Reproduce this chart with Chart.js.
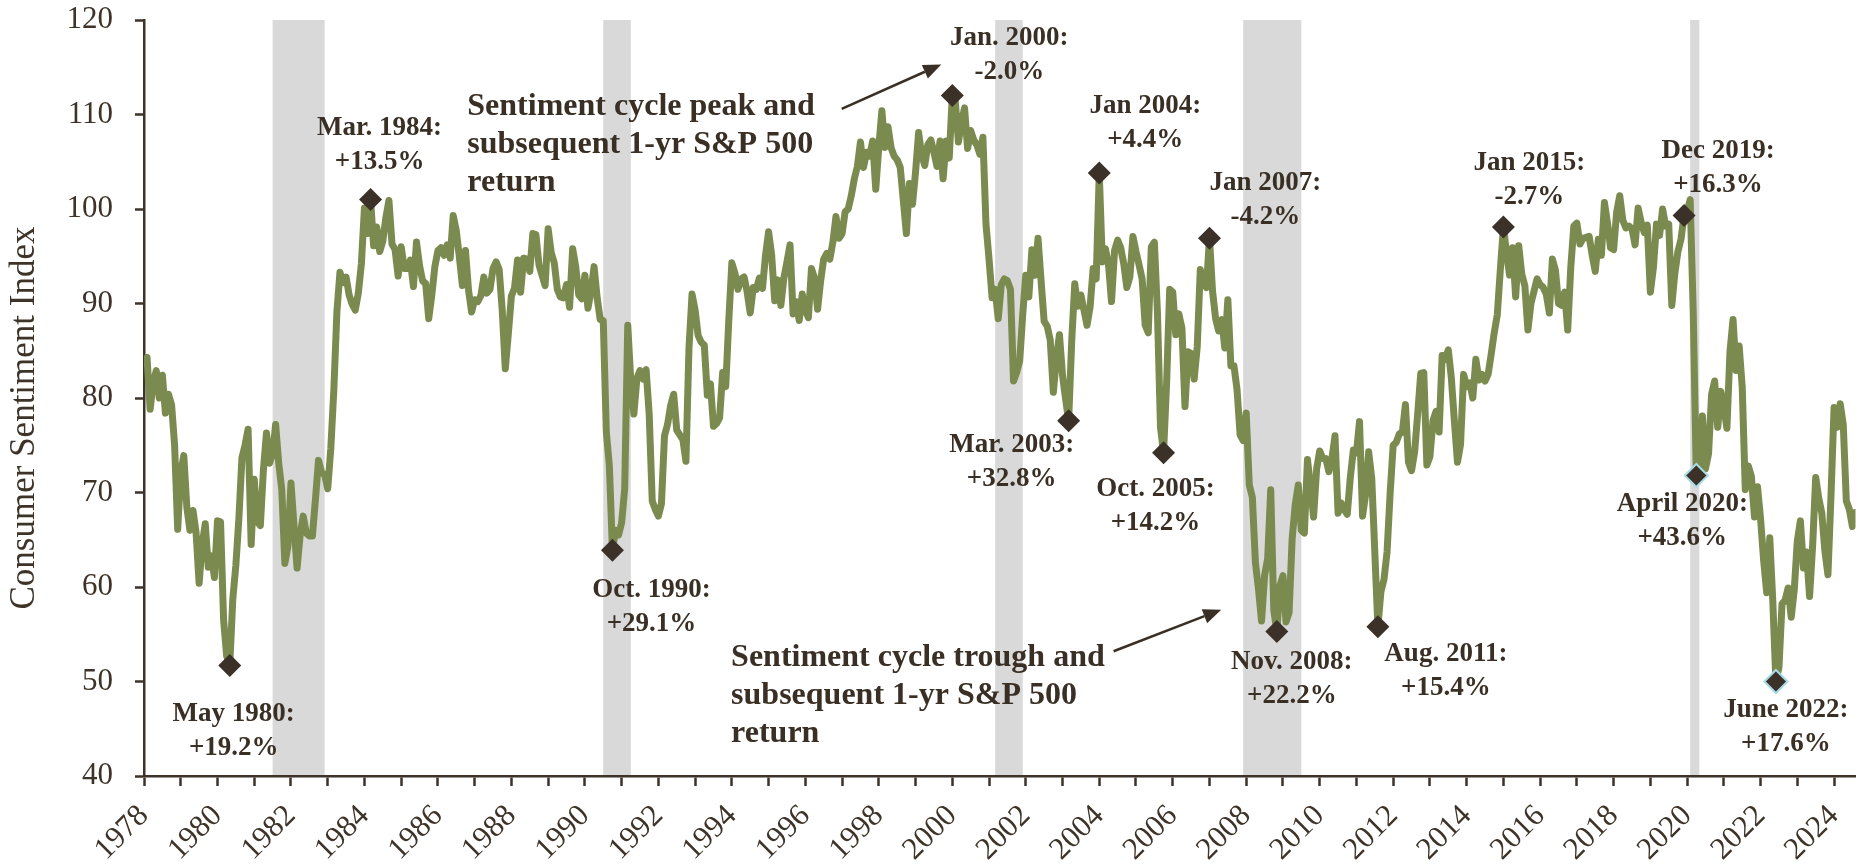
<!DOCTYPE html>
<html>
<head>
<meta charset="utf-8">
<title>Consumer Sentiment Index</title>
<script src="https://cdn.jsdelivr.net/npm/chart.js@4.4.1/dist/chart.umd.min.js"></script>
<style>
    html, body { margin: 0; padding: 0; background: #fff; }
    canvas { display: block; }
</style>
</head>
<body>
<canvas id="chart" width="1869" height="866"></canvas>
<script>
// Consumer Sentiment Index, monthly, Jan 1978 - Aug 2024

const firstYear = 1978;

const sent1978to1979 = [
    83.7, 84.3, 78.8, 81.6, 82.9, 80.0, 82.4, 78.4, 80.4, 79.3, 75.0, 66.1,
    72.1, 73.9, 68.4, 66.0, 68.1, 65.8, 60.4, 64.5, 66.7, 62.1, 63.3, 61.0
];
const sent1980s = [
    67.0, 66.9, 56.5, 52.7, 51.7, 58.7, 62.3, 67.3, 73.7, 75.0, 76.7, 64.5,
    71.4, 66.9, 66.5, 72.4, 76.3, 73.1, 74.1, 77.2, 73.1, 70.3, 62.5, 64.3,
    71.0, 66.5, 62.0, 65.5, 67.5, 65.7, 65.4, 65.4, 69.3, 73.4, 72.1, 71.9,
    70.4, 74.6, 80.8, 89.1, 93.3, 92.2, 92.8, 90.9, 89.9, 89.3, 91.1, 94.2,
    100.1, 97.4, 101.0, 96.1, 98.1, 95.5, 96.6, 99.1, 100.9, 96.3, 95.7, 92.9,
    96.0, 93.7, 93.7, 94.6, 91.8, 96.5, 94.0, 92.4, 92.1, 88.4, 90.9, 93.9,
    95.6, 95.9, 95.1, 96.2, 94.8, 99.3, 97.7, 94.9, 91.9, 95.6, 91.4, 89.1,
    90.4, 90.2, 90.8, 92.8, 91.1, 91.5, 93.7, 94.4, 93.6, 89.3, 83.1, 86.8,
    90.8, 91.6, 94.6, 91.2, 94.8, 94.7, 93.4, 97.4, 97.3, 94.1, 93.0, 91.9,
    97.9, 95.4, 94.3, 91.5, 90.7, 90.6, 92.0, 89.6, 95.8, 93.9, 90.9, 90.5
];
const sent1990s = [
    93.0, 89.5, 91.3, 93.9, 90.6, 88.3, 88.2, 76.4, 72.8, 63.9, 66.0, 65.5,
    66.8, 70.4, 87.7, 81.8, 78.3, 82.1, 82.9, 82.0, 83.0, 78.3, 69.1, 68.2,
    67.5, 68.8, 76.0, 77.2, 79.2, 80.4, 76.6, 76.1, 75.6, 73.3, 85.3, 91.0,
    89.3, 86.6, 85.9, 85.6, 80.3, 81.5, 77.0, 77.3, 77.9, 82.7, 81.2, 88.2,
    94.3, 93.2, 91.5, 92.6, 92.8, 91.2, 89.0, 91.7, 91.5, 92.7, 91.6, 95.1,
    97.6, 95.1, 90.3, 92.5, 89.8, 92.7, 94.4, 96.2, 88.9, 90.2, 88.2, 91.0,
    89.3, 88.5, 93.7, 92.7, 89.4, 92.4, 94.7, 95.3, 94.7, 96.5, 99.2, 96.9,
    97.4, 99.7, 100.0, 101.4, 103.2, 104.5, 107.1, 104.4, 106.0, 105.6, 107.2, 102.1,
    106.6, 110.4, 106.5, 108.7, 106.5, 105.6, 105.2, 104.4, 100.9, 97.4, 102.7, 100.5,
    103.9, 108.1, 105.7, 104.6, 106.8, 107.3, 106.0, 104.5, 107.2, 103.2, 107.2, 105.4
];
const sent2000s = [
    112.0, 111.3, 107.1, 109.2, 110.7, 106.4, 108.3, 107.3, 106.8, 105.8, 107.6, 98.4,
    94.7, 90.6, 91.5, 88.4, 92.0, 92.6, 92.4, 91.5, 81.8, 82.7, 83.9, 88.8,
    93.0, 90.7, 95.7, 93.0, 96.9, 92.4, 88.1, 87.6, 86.1, 80.6, 84.2, 86.7,
    82.4, 79.9, 77.6, 86.0, 92.1, 89.7, 90.9, 89.3, 87.7, 89.6, 93.7, 92.6,
    103.8, 94.4, 95.8, 94.2, 90.2, 95.6, 96.7, 95.9, 94.2, 91.7, 92.8, 97.1,
    95.5, 94.1, 92.6, 87.7, 86.9, 96.0, 96.5, 89.1, 76.9, 74.2, 81.6, 91.5,
    91.2, 86.7, 88.9, 87.4, 79.1, 84.9, 84.7, 82.0, 85.4, 93.6, 92.1, 91.7,
    96.9, 91.3, 88.4, 87.1, 88.3, 85.3, 90.4, 83.4, 83.4, 80.9, 76.1, 75.5,
    78.4, 70.8, 69.5, 62.6, 59.8, 56.4, 61.2, 63.0, 70.3, 57.6, 55.3, 60.1,
    61.2, 56.3, 57.3, 65.1, 68.7, 70.8, 66.0, 65.7, 73.5, 70.6, 67.4, 72.5
];
const sent2010s = [
    74.4, 73.6, 73.6, 72.2, 73.6, 76.0, 67.8, 68.9, 68.2, 67.7, 71.6, 74.5,
    74.2, 77.5, 67.5, 69.8, 74.3, 71.5, 63.7, 55.8, 59.5, 60.8, 63.7, 69.9,
    75.0, 75.3, 76.2, 76.4, 79.3, 73.2, 72.3, 74.3, 78.3, 82.6, 82.7, 72.9,
    73.8, 77.6, 78.6, 76.4, 84.5, 84.1, 85.1, 82.1, 77.5, 73.2, 75.1, 82.5,
    81.2, 81.6, 80.0, 84.1, 81.9, 82.5, 81.8, 82.5, 84.6, 86.9, 88.8, 93.6,
    98.1, 95.4, 93.0, 95.9, 90.7, 96.1, 93.1, 91.9, 87.2, 90.0, 91.3, 92.6,
    92.0, 91.7, 91.0, 89.0, 94.7, 93.5, 90.0, 89.8, 91.2, 87.2, 93.8, 98.2,
    98.5, 96.3, 96.9, 97.0, 97.1, 95.1, 93.4, 96.8, 95.1, 100.7, 98.5, 95.9,
    95.7, 99.7, 101.4, 98.8, 98.0, 98.2, 97.9, 96.2, 100.1, 98.6, 97.5, 98.3,
    91.2, 93.8, 98.4, 97.2, 100.0, 98.2, 98.4, 89.8, 93.2, 95.5, 96.8, 99.3
];
const sent2020s = [
    99.8, 101.0, 89.1, 71.8, 72.3, 78.1, 72.5, 74.1, 80.4, 81.8, 76.9, 80.7,
    79.0, 76.8, 84.9, 88.3, 82.9, 85.5, 81.2, 70.3, 72.8, 71.7, 67.4, 70.6,
    67.2, 62.8, 59.4, 65.2, 58.4, 50.0, 51.5, 58.2, 58.6, 59.9, 56.8, 59.7,
    64.9, 67.0, 62.0, 63.7, 59.0, 64.4, 71.6, 69.4, 67.8, 63.8, 61.3, 69.7,
    79.0, 76.9, 79.4, 77.2, 69.1, 68.2, 66.4, 67.9
];

// recessions (first and last month), shaded grey
const recessionStart = ['1981-07', '1990-07', '2001-03', '2007-12', '2020-02'];
const recessionEnd = ['1982-11', '1991-03', '2001-11', '2009-06', '2020-04'];

// sentiment peaks / troughs and the following 1-yr S&P 500 return
const markDates = ['1980-05', '1984-03', '1990-10', '2000-01', '2003-03', '2004-01', '2005-10',
    '2007-01', '2008-11', '2011-08', '2015-01', '2019-12', '2020-04', '2022-06'];
const markNames = ['May 1980:', 'Mar. 1984:', 'Oct. 1990:', 'Jan. 2000:', 'Mar. 2003:', 'Jan 2004:', 'Oct. 2005:',
    'Jan 2007:', 'Nov. 2008:', 'Aug. 2011:', 'Jan 2015:', 'Dec 2019:', 'April 2020:', 'June 2022:'];
const markReturns = ['+19.2%', '+13.5%', '+29.1%', '-2.0%', '+32.8%', '+4.4%', '+14.2%',
    '-4.2%', '+22.2%', '+15.4%', '-2.7%', '+16.3%', '+43.6%', '+17.6%'];
const outlinedMarks = ['2020-04', '2022-06'];

const peakNote = ['Sentiment cycle peak and', 'subsequent 1-yr S&P 500', 'return'];
const troughNote = ['Sentiment cycle trough and', 'subsequent 1-yr S&P 500', 'return'];

const yTicks = [40, 50, 60, 70, 80, 90, 100, 110, 120];
const yTitle = 'Consumer Sentiment Index';

// ---- layout / style ----
const axisColor = '#3d3328';
const textColor = '#3a2f24';
const lineColor = '#7b8b4f';
const markColor = '#3b3128';
const bandColor = '#d9d9d9';

// label offsets from each diamond (px): [dx, dy of first baseline]
const markLabelShift = [[4, 56], [9, -65], [39, 47], [57, -51], [-57, 31], [46, -60], [-8, 43],
    [56, -48], [15, 38], [68, 34], [26, -57], [34, -58], [-14, 36], [10, 35]];
// callout text anchor and arrow (in chart units: year, index)
const callouts = [
    { lines: peakNote, at: [1986.80, 109.9], from: [1996.99, 110.6], to: [1999.70, 115.3] },
    { lines: troughNote, at: [1993.98, 51.6], from: [2004.39, 53.2], to: [2007.32, 57.6] }
];

Chart.defaults.font.family = '"Liberation Serif", "Times New Roman", serif';
Chart.defaults.color = axisColor;

const sentiment = [].concat(sent1978to1979, sent1980s, sent1990s, sent2000s, sent2010s, sent2020s);
const lastX = firstYear + (sentiment.length - 1) / 12;

function monthValue(s) {
    const [yr, m] = s.split('-').map(Number);
    return yr + (m - 1) / 12;
}
function monthIndex(s) {
    const [yr, m] = s.split('-').map(Number);
    return (yr - firstYear) * 12 + m - 1;
}

const yearTicks = [];
for (let yr = firstYear; yr <= Math.floor(lastX); yr++) yearTicks.push(yr);

const linePoints = sentiment.map((v, i) => ({ x: firstYear + i / 12, y: v }));
const markPoints = markDates.map(d => ({ x: monthValue(d), y: sentiment[monthIndex(d)] }));

function drawArrow(ctx, x0, y0, x1, y1) {
    const ang = Math.atan2(y1 - y0, x1 - x0);
    const head = 18, half = 7.5;
    const bx = x1 - Math.cos(ang) * head, by = y1 - Math.sin(ang) * head;
    ctx.beginPath();
    ctx.moveTo(x0, y0);
    ctx.lineTo(bx, by);
    ctx.stroke();
    ctx.beginPath();
    ctx.moveTo(x1, y1);
    ctx.lineTo(bx + Math.sin(ang) * half, by - Math.cos(ang) * half);
    ctx.lineTo(bx - Math.sin(ang) * half, by + Math.cos(ang) * half);
    ctx.closePath();
    ctx.fill();
}

const notes = {
    id: 'notes',
    beforeDraw(chart) {
        const { ctx, chartArea, scales: { x } } = chart;
        ctx.save();
        ctx.fillStyle = bandColor;
        recessionStart.forEach((s, i) => {
            const x0 = x.getPixelForValue(monthValue(s));
            const x1 = x.getPixelForValue(monthValue(recessionEnd[i]) + 1 / 12);
            ctx.fillRect(x0, chartArea.top, x1 - x0, chartArea.bottom - chartArea.top);
        });
        ctx.restore();
    },
    afterDatasetsDraw(chart) {
        const { ctx, chartArea, scales: { x, y } } = chart;
        ctx.save();
        ctx.fillStyle = textColor;
        ctx.strokeStyle = textColor;
        ctx.textBaseline = 'alphabetic';

        // date + return labels
        ctx.textAlign = 'center';
        ctx.font = 'bold 27px "Liberation Serif"';
        markPoints.forEach((p, i) => {
            const px = x.getPixelForValue(p.x) + markLabelShift[i][0];
            const py = y.getPixelForValue(p.y) + markLabelShift[i][1];
            ctx.fillText(markNames[i], px, py);
            ctx.fillText(markReturns[i], px, py + 34);
        });

        // callouts with arrows
        ctx.textAlign = 'left';
        ctx.font = 'bold 32px "Liberation Serif"';
        ctx.lineWidth = 2.5;
        callouts.forEach(c => {
            const px = x.getPixelForValue(c.at[0]);
            const py = y.getPixelForValue(c.at[1]);
            c.lines.forEach((t, k) => ctx.fillText(t, px, py + k * 38));
            drawArrow(ctx,
                x.getPixelForValue(c.from[0]), y.getPixelForValue(c.from[1]),
                x.getPixelForValue(c.to[0]), y.getPixelForValue(c.to[1]));
        });

        // y axis title, sits a little below the middle of the plot
        ctx.fillStyle = axisColor;
        ctx.font = '35px "Liberation Serif"';
        ctx.textAlign = 'center';
        ctx.textBaseline = 'middle';
        ctx.translate(25, (chartArea.top + chartArea.bottom) / 2 + 20);
        ctx.rotate(-Math.PI / 2);
        ctx.fillText(yTitle, 0, 0);
        ctx.restore();
    }
};

new Chart(document.getElementById('chart'), {
    type: 'line',
    data: {
        datasets: [
            {
                type: 'scatter',
                data: markPoints,
                pointStyle: 'rectRot',
                pointRadius: 11.5,
                pointBackgroundColor: markColor,
                pointBorderColor: markDates.map(d => outlinedMarks.includes(d) ? '#a6dbe6' : markColor),
                pointBorderWidth: markDates.map(d => outlinedMarks.includes(d) ? 2 : 0),
                order: 0
            },
            {
                data: linePoints,
                borderColor: lineColor,
                borderWidth: 7,
                borderJoinStyle: 'round',
                borderCapStyle: 'round',
                pointRadius: 0,
                tension: 0,
                fill: false,
                order: 1
            }
        ]
    },
    options: {
        responsive: false,
        animation: false,
        devicePixelRatio: 1,
        events: [],
        layout: { padding: { top: 20, right: 10, bottom: 0, left: 0 } },
        plugins: { legend: { display: false }, tooltip: { enabled: false } },
        scales: {
            x: {
                type: 'linear',
                min: firstYear,
                max: lastX,
                afterBuildTicks: s => { s.ticks = yearTicks.map(v => ({ value: v })); },
                afterFit: s => { s.height = 90; s.paddingLeft = 0; s.paddingRight = 0; },
                grid: { drawOnChartArea: false, tickLength: 10, tickWidth: 2.5, tickColor: axisColor },
                border: { color: axisColor, width: 2.5 },
                ticks: {
                    autoSkip: false,
                    minRotation: 45,
                    maxRotation: 45,
                    padding: 12,
                    color: axisColor,
                    font: { size: 31 },
                    callback: v => (v % 2 === 0 ? String(v) : '')
                }
            },
            y: {
                min: 40,
                max: 120,
                afterBuildTicks: s => { s.ticks = yTicks.map(v => ({ value: v })); },
                afterFit: s => { s.width = 144; s.paddingTop = 0; s.paddingBottom = 0; },
                grid: { drawOnChartArea: false, tickLength: 9, tickWidth: 2.5, tickColor: axisColor },
                border: { color: axisColor, width: 2.5 },
                ticks: { padding: 22, color: axisColor, font: { size: 31 } }
            }
        }
    },
    plugins: [notes]
});
</script>
</body>
</html>
